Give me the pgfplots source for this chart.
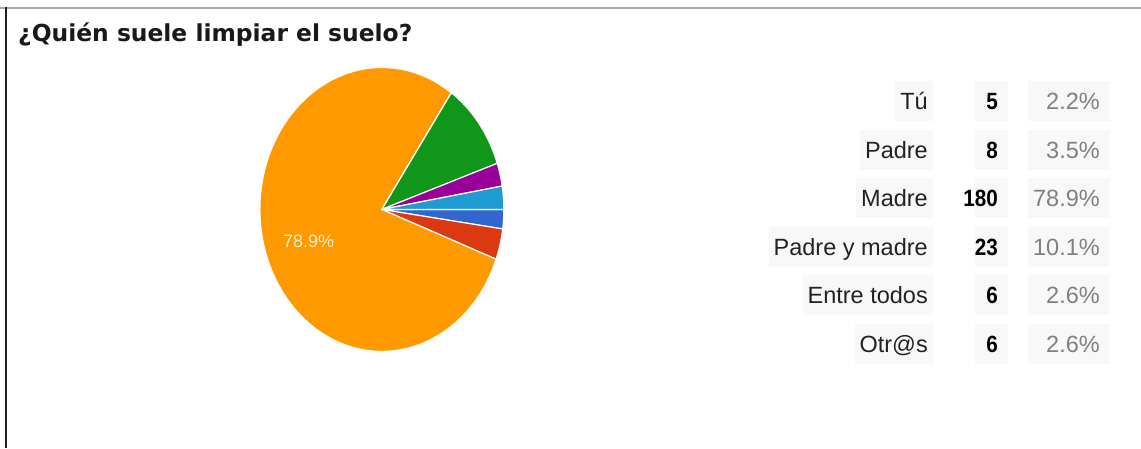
\documentclass[border=0pt]{standalone}
\usepackage{pgfplots}
\pgfplotsset{compat=1.18}
\usepackage{pgfplotstable}
\usepackage{fontspec}
\setmainfont{Liberation Sans}
\newfontfamily\titlefont{DejaVu Sans}
\definecolor{cTu}{HTML}{3366CC}
\definecolor{cPadre}{HTML}{DC3912}
\definecolor{cMadre}{HTML}{FF9900}
\definecolor{cPym}{HTML}{109618}
\definecolor{cEt}{HTML}{990099}
\definecolor{cOtr}{HTML}{1E9BD0}
\definecolor{labtxt}{HTML}{222222}
\definecolor{pcttxt}{HTML}{808080}
\definecolor{cellbg}{HTML}{F8F8F8}
\definecolor{inlab}{HTML}{FFF2D0}

\pgfplotstableread[col sep=comma]{
label,value,pct,color
Tú,5,2.2,cTu
Padre,8,3.5,cPadre
Madre,180,78.9,cMadre
Padre y madre,23,10.1,cPym
Entre todos,6,2.6,cEt
Otr@s,6,2.6,cOtr
}\piedata

\begin{document}
\begin{tikzpicture}[x=1pt,y=1pt]
\path[use as bounding box] (0,0) rectangle (1141,448);
\fill[white] (0,0) rectangle (1141,448);
% frame
\draw[color=black!33, line width=1.5pt] (0,440) -- (1141,440);
\draw[color=black!88, line width=2.5pt] (6.2,0) -- (6.2,440.5);
% title
\node[anchor=base west, inner sep=0, text=black!90,
      font=\titlefont\bfseries\fontsize{23.4}{28}\selectfont] at (18,406) {¿Quién suele limpiar el suelo?};

% slice angles (start at 3 o'clock, clockwise)
\def\cum{0}
\pgfplotsforeachungrouped \i in {0,...,5}{%
  \pgfplotstablegetelem{\i}{value}\of\piedata
  \pgfmathsetmacro\cum{\cum+\pgfplotsretval}%
}
\let\total\cum
\def\cum{0}
\pgfplotsforeachungrouped \i in {0,...,5}{%
  \pgfplotstablegetelem{\i}{value}\of\piedata
  \pgfmathsetmacro\endang{\cum-\pgfplotsretval/\total*360}%
  \expandafter\xdef\csname sA\i\endcsname{\cum}%
  \expandafter\xdef\csname sB\i\endcsname{\endang}%
  \pgfplotstablegetelem{\i}{color}\of\piedata
  \expandafter\xdef\csname sC\i\endcsname{\pgfplotsretval}%
  \let\cum\endang
}

\begin{axis}[at={(213,68)}, anchor=south west, width=244pt, height=284pt,
  scale only axis, hide axis, xmin=-1, xmax=1, ymin=-1, ymax=1, clip=false]
\pgfplotsforeachungrouped \i in {0,...,5}{%
  \edef\temp{\noexpand\addplot[fill=\csname sC\i\endcsname, draw=white, line width=1.2pt,
    line join=round, domain=\csname sB\i\endcsname:\csname sA\i\endcsname, samples=90]
    ({cos(x)},{sin(x)}) -- (axis cs:0,0) -- cycle;}%
  \temp
}
\node[text=inlab, font=\fontsize{18}{20}\selectfont] at (axis cs:-0.6,-0.225) {78.9\%};
\end{axis}

% table legend
\pgfplotsforeachungrouped \i in {0,...,5}{%
  \pgfmathsetmacro\yb{338.5-48.6*\i}%
  \pgfplotstablegetelem{\i}{label}\of\piedata \let\lab\pgfplotsretval
  \pgfplotstablegetelem{\i}{value}\of\piedata \let\val\pgfplotsretval
  \pgfplotstablegetelem{\i}{pct}\of\piedata \let\pct\pgfplotsretval
  \fill[cellbg] (975,\yb-11.5) rectangle (1008,\yb+28.5);
  \fill[cellbg] (1028,\yb-11.5) rectangle (1110,\yb+28.5);
  \node[anchor=base east, fill=cellbg, inner xsep=5pt, inner ysep=0pt, text height=28.5pt, text depth=11.5pt,
        text=labtxt, font=\fontsize{23.5}{28}\selectfont] at (933,\yb) {\lab};
  \node[anchor=base east, inner sep=0pt, xscale=0.88, text=black,
        font=\bfseries\fontsize{23.5}{28}\selectfont] at (998,\yb) {\val};
  \node[anchor=base east, inner sep=0pt, text=pcttxt,
        font=\fontsize{23.5}{28}\selectfont] at (1100,\yb) {\pct\%};
}
\end{tikzpicture}
\end{document}
